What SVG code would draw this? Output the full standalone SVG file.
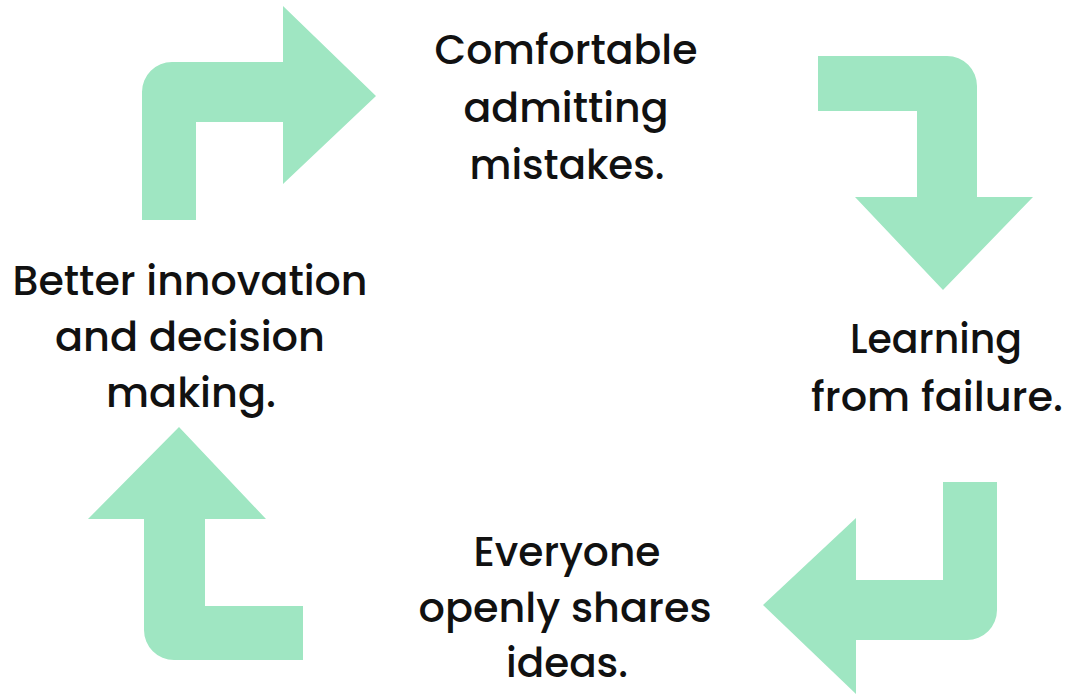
<svg xmlns="http://www.w3.org/2000/svg" width="1068" height="695" viewBox="0 0 1068 695">
  <style>
    .arrow { fill: #9fe6c2; stroke: none; }
    .label { font-family: "Poppins", "Inter", "Liberation Sans", sans-serif; font-size: 41px; font-weight: 500; fill: #111111; text-anchor: middle; }
  </style>
  <rect width="1068" height="695" fill="#ffffff"/>
  <g id="connectors">
    <path class="arrow" d="M142,220 V92 A30,30 0 0 1 172,62 H283 V6 L376,96 L283,184 V122 H196 V220 Z"/>
    <path class="arrow" d="M818,56 H947 A30,30 0 0 1 977,86 V197 H1033 L943,290 L855,197 H917 V111 H818 Z"/>
    <path class="arrow" d="M997,482 V610 A30,30 0 0 1 967,640 H856 V694 L763,605 L856,518 V580 H943 V482 Z"/>
    <path class="arrow" d="M179,427 L266,519 H205 V606 H303 V660 H174 A30,30 0 0 1 144,630 V519 H88 Z"/>
  </g>
  <g id="node-comfortable">
    <text class="label" x="566" y="64" textLength="263" lengthAdjust="spacingAndGlyphs">Comfortable</text>
    <text class="label" x="566" y="122" textLength="205" lengthAdjust="spacingAndGlyphs">admitting</text>
    <text class="label" x="567" y="179" textLength="195" lengthAdjust="spacingAndGlyphs">mistakes.</text>
  </g>
  <g id="node-learning">
    <text class="label" x="936" y="353" textLength="172" lengthAdjust="spacingAndGlyphs">Learning</text>
    <text class="label" x="937" y="411" textLength="252" lengthAdjust="spacingAndGlyphs">from failure.</text>
  </g>
  <g id="node-everyone">
    <text class="label" x="567" y="566" textLength="187" lengthAdjust="spacingAndGlyphs">Everyone</text>
    <text class="label" x="565" y="622" textLength="293" lengthAdjust="spacingAndGlyphs">openly shares</text>
    <text class="label" x="567" y="677" textLength="122" lengthAdjust="spacingAndGlyphs">ideas.</text>
  </g>
  <g id="node-better">
    <text class="label" x="190" y="295" textLength="355" lengthAdjust="spacingAndGlyphs">Better innovation</text>
    <text class="label" x="190" y="351" textLength="270" lengthAdjust="spacingAndGlyphs">and decision</text>
    <text class="label" x="191" y="407" textLength="170" lengthAdjust="spacingAndGlyphs">making.</text>
  </g>
</svg>
